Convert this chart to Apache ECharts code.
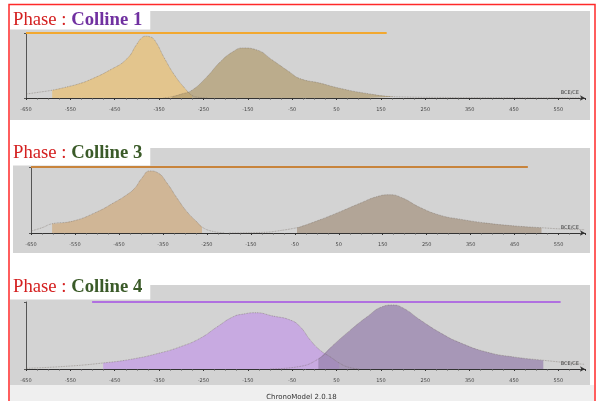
<!DOCTYPE html>
<html><head><meta charset="utf-8">
<script src="https://cdn.jsdelivr.net/npm/echarts@6/dist/echarts.min.js"></script>
<style>html,body{margin:0;padding:0;background:#fff}#c{width:603px;height:401px}</style>
</head><body><div id="c"></div>
<script>
// ---- data ----
const axisMin = -650, axisMax = 610, axisInterval = 100;
const phaseNames = ['Colline 1', 'Colline 3', 'Colline 4'];
const phaseSpans = [[-650, 163], [-650, 480], [-501, 555]];

// Colline 1
const c1A = [[-650,0.06],[-620,0.09],[-591,0.12],[-558,0.17],[-530,0.22],[-506,0.28],[-461,0.43],[-423,0.6],[-400,0.83],[-390,0.92],[-380,0.95],[-370,0.94],[-360,0.89],[-337,0.6],[-315,0.35],[-292,0.15],[-276,0.04],[-260,0.01],[-240,0]];
const c1B = [[-340,0],[-321,0.02],[-300,0.06],[-276,0.12],[-243,0.32],[-213,0.55],[-184,0.71],[-161,0.77],[-130,0.74],[-94,0.58],[-56,0.4],[-33,0.3],[12,0.23],[57,0.15],[118,0.07],[181,0.02],[300,0.008],[450,0.003],[608,0.001]];
const c1HpdA = [-591, -276], c1HpdB = [-321, 181];
// Colline 3
const c3A = [[-650,0.03],[-625,0.08],[-602,0.14],[-555,0.18],[-500,0.32],[-464,0.45],[-432,0.58],[-414,0.68],[-398,0.83],[-380,0.94],[-361,0.91],[-341,0.76],[-318,0.53],[-295,0.32],[-273,0.17],[-261,0.09],[-240,0.03],[-210,0]];
const c3B = [[-200,0],[-120,0.01],[-80,0.04],[-45,0.08],[-39,0.09],[7,0.2],[52,0.32],[98,0.45],[136,0.55],[166,0.58],[195,0.53],[234,0.39],[280,0.27],[325,0.21],[386,0.15],[445,0.11],[511,0.08],[560,0.06],[608,0.05]];
const c3HpdA = [-602, -261], c3HpdB = [-45, 511];
// Colline 4
const c4A = [[-650,0.01],[-560,0.04],[-476,0.09],[-409,0.15],[-348,0.24],[-303,0.33],[-257,0.46],[-219,0.63],[-183,0.78],[-160,0.82],[-133,0.84],[-93,0.79],[-54,0.73],[-32,0.63],[-9,0.43],[13,0.28],[36,0.18],[56,0.09],[75,0.03],[100,0]];
const c4B = [[-100,0],[-40,0.03],[9,0.15],[43,0.36],[81,0.58],[119,0.78],[153,0.93],[176,0.955],[200,0.91],[239,0.73],[284,0.54],[329,0.39],[390,0.25],[449,0.18],[516,0.13],[560,0.1],[608,0.07]];
const c4HpdA = [-476, 56], c4HpdB = [9, 516];

const densities = [[c1A, c1B], [c3A, c3B], [c4A, c4B]];
const hpds = [[c1HpdA, c1HpdB], [c3HpdA, c3HpdB], [c4HpdA, c4HpdB]];

// ---- styles ----
const fills = [
  ['rgba(234,191,111,0.7)', 'rgba(177,155,110,0.7)'],
  ['rgba(207,175,135,0.8)', 'rgba(167,150,131,0.75)'],
  ['rgba(195,152,231,0.7)', 'rgba(152,131,174,0.75)']
];
const spanColors = ['#f2a830', '#c8843c', '#b070e0'];
const nameColors = ['#7030a0', '#3a5a28', '#3a5a28'];
const grids = [
  {left: 26, top: 33, width: 559, height: 65},
  {left: 31, top: 167, width: 554, height: 66},
  {left: 26, top: 302, width: 559, height: 67}
];
const titleTops = [9, 142, 276];
const titlePads = [[1,8,0,3],[1,8,3,3],[1,8,3,3]];
const bgRects = [
  {x: 10, y: 11, width: 580, height: 109},
  {x: 13, y: 148, width: 577, height: 105},
  {x: 10, y: 285, width: 580, height: 100}
];

const xAxes = [], yAxes = [], series = [], titles = [];
grids.forEach((g, i) => {
  xAxes.push({
    type: 'value', gridIndex: i, min: axisMin, max: axisMax, interval: axisInterval,
    axisLine: {show: true, onZero: false, lineStyle: {color: '#333', width: 1}, symbol: ['none', 'arrow'], symbolSize: [4, 5]},
    axisTick: {show: true, length: 2, inside: false, lineStyle: {color: '#333'}},
    minorTick: {show: true, splitNumber: 4, length: 1.5, lineStyle: {color: '#555'}},
    splitLine: {show: false},
    axisLabel: {fontSize: 5, color: '#444', margin: 9, fontFamily: 'DejaVu Sans', showMaxLabel: false},
    name: 'BCE/CE', nameLocation: 'end', nameGap: -6,
    nameTextStyle: {fontSize: 5, color: '#444', align: 'right', verticalAlign: 'bottom', padding: [0, 0, 3, 0], fontFamily: 'DejaVu Sans'}
  });
  yAxes.push({
    type: 'value', gridIndex: i, min: 0, max: 1, interval: 1,
    axisLine: {show: true, onZero: false, lineStyle: {color: '#555'}},
    axisTick: {show: true, length: 2, lineStyle: {color: '#555'}},
    axisLabel: {show: false}, splitLine: {show: false}
  });
  titles.push({
    text: '{a|Phase : }{b|' + phaseNames[i] + '}',
    left: 10, top: titleTops[i], backgroundColor: '#ffffff', padding: titlePads[i],
    textStyle: {fontWeight: 'normal', rich: {
      a: {fontFamily: 'Liberation Serif', fontSize: 18.7, fontWeight: 'normal', color: '#d42020', lineHeight: 20},
      b: {fontFamily: 'Liberation Serif', fontSize: 18.7, fontWeight: 'bold', color: nameColors[i], lineHeight: 20}
    }}
  });
  densities[i].forEach((d, k) => {
    const [lo, hi] = hpds[i][k];
    series.push({
      type: 'line', xAxisIndex: i, yAxisIndex: i, data: d.filter(p => p[0] >= lo && p[0] <= hi),
      smooth: 0.5, symbol: 'none', lineStyle: {width: 0},
      areaStyle: {color: fills[i][k], opacity: 1}, z: 2 + k
    });
    series.push({
      type: 'line', xAxisIndex: i, yAxisIndex: i, data: d,
      smooth: 0.5, symbol: 'none',
      lineStyle: {width: 0.8, type: 'dotted', color: 'rgba(110,100,90,0.6)'}, z: 4
    });
  });
  series.push({
    type: 'line', xAxisIndex: i, yAxisIndex: i, clip: false,
    data: [[phaseSpans[i][0], 1], [phaseSpans[i][1], 1]],
    symbol: 'none', lineStyle: {width: 2, color: spanColors[i]}, z: 5
  });
});
titles.push({
  text: 'ChronoModel 2.0.18', left: 'center', top: 389,
  textStyle: {fontSize: 7, fontWeight: 'normal', color: '#333', fontFamily: 'DejaVu Sans'}
});

const graphics = bgRects.map(r => ({type: 'rect', shape: r, style: {fill: '#d3d3d3'}, z: -10, silent: true}));
graphics.push({type: 'rect', shape: {x: 10, y: 385, width: 584, height: 20}, style: {fill: '#efefef'}, z: -10, silent: true});
graphics.push({type: 'rect', shape: {x: 9, y: 4.5, width: 586, height: 420}, style: {fill: 'none', stroke: '#ff2a2a', lineWidth: 1.5}, z: 100, silent: true});

const chart = echarts.init(document.getElementById('c'), null, {renderer: 'canvas'});
chart.setOption({
  animation: false,
  backgroundColor: '#ffffff',
  title: titles,
  grid: grids,
  xAxis: xAxes,
  yAxis: yAxes,
  series: series,
  graphic: {elements: graphics}
});
</script></body></html>
